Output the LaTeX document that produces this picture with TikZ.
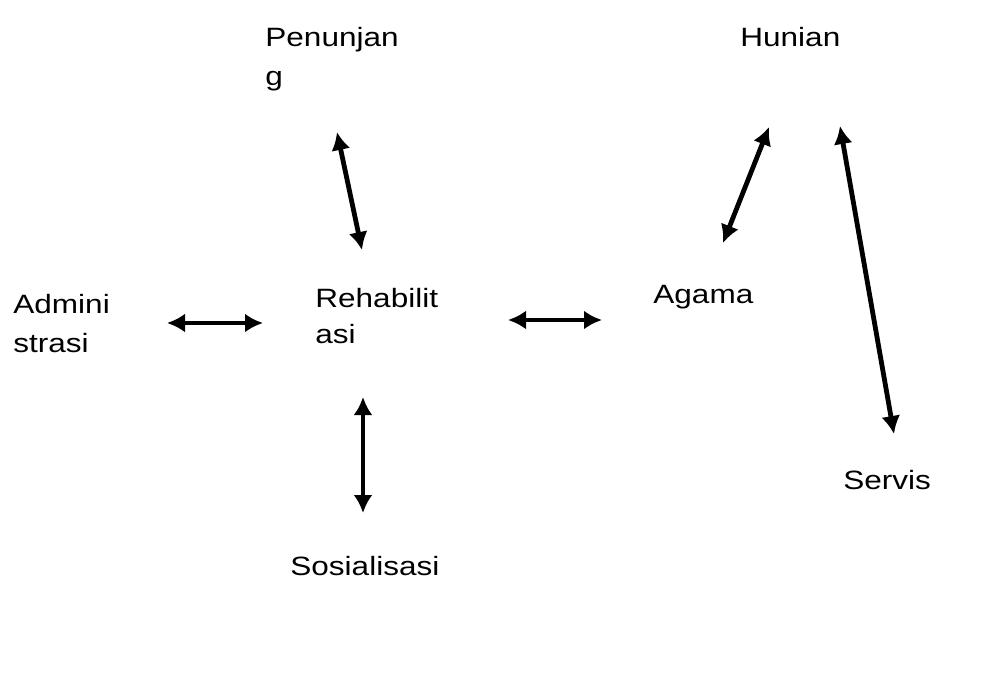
\documentclass[tikz,border=0pt]{standalone}
\usepackage{fontspec}
\setmainfont{Liberation Sans}[FakeStretch=1.19]
\usetikzlibrary{arrows.meta,positioning}
\tikzset{
 room/.style={anchor=base west, inner sep=0pt, align=left, font=\fontsize{13.25}{19.5}\selectfont},
 link/.style={{Latex[length=9pt,width=9.5pt]}-{Latex[length=9pt,width=9.5pt]}, line width=2.4pt, draw=black}
}
\begin{document}
\begin{tikzpicture}[x=0.5pt,y=-0.5pt]
\useasboundingbox (0,0) rectangle (993,692);
\node[room] (penunjang) at (265,85) {Penunjan\\g};
\node[room] (hunian) at (740,46) {Hunian};
\node[room] (admin) at (13,352) {Admini\\strasi};
\node[room, font=\fontsize{13.25}{18}\selectfont] (rehab) at (315,343) {Rehabilit\\asi};
\node[room] (agama) at (653,303) {Agama};
\node[room] (servis) at (843,489) {Servis};
\node[room] (sosial) at (290,575) {Sosialisasi};
% arrow ends
\coordinate (pen-s) at (337,132);
\coordinate (reh-n) at (362,250);
\coordinate (hun-sw) at (769,127);
\coordinate (aga-ne) at (723,243);
\coordinate (hun-se) at (840,126);
\coordinate (ser-n) at (894,434);
\coordinate (adm-e) at (167,323);
\coordinate (reh-w) at (263,323);
\coordinate (reh-e) at (508,320);
\coordinate (aga-w) at (602,320);
\coordinate (reh-s) at (363,397);
\coordinate (sos-n) at (363,513);
\draw[link] (pen-s) -- (reh-n);
\draw[link] (hun-sw) -- (aga-ne);
\draw[link] (hun-se) -- (ser-n);
\draw[link] (adm-e) -- (reh-w);
\draw[link] (reh-e) -- (aga-w);
\draw[link] (reh-s) -- (sos-n);
\end{tikzpicture}
\end{document}
